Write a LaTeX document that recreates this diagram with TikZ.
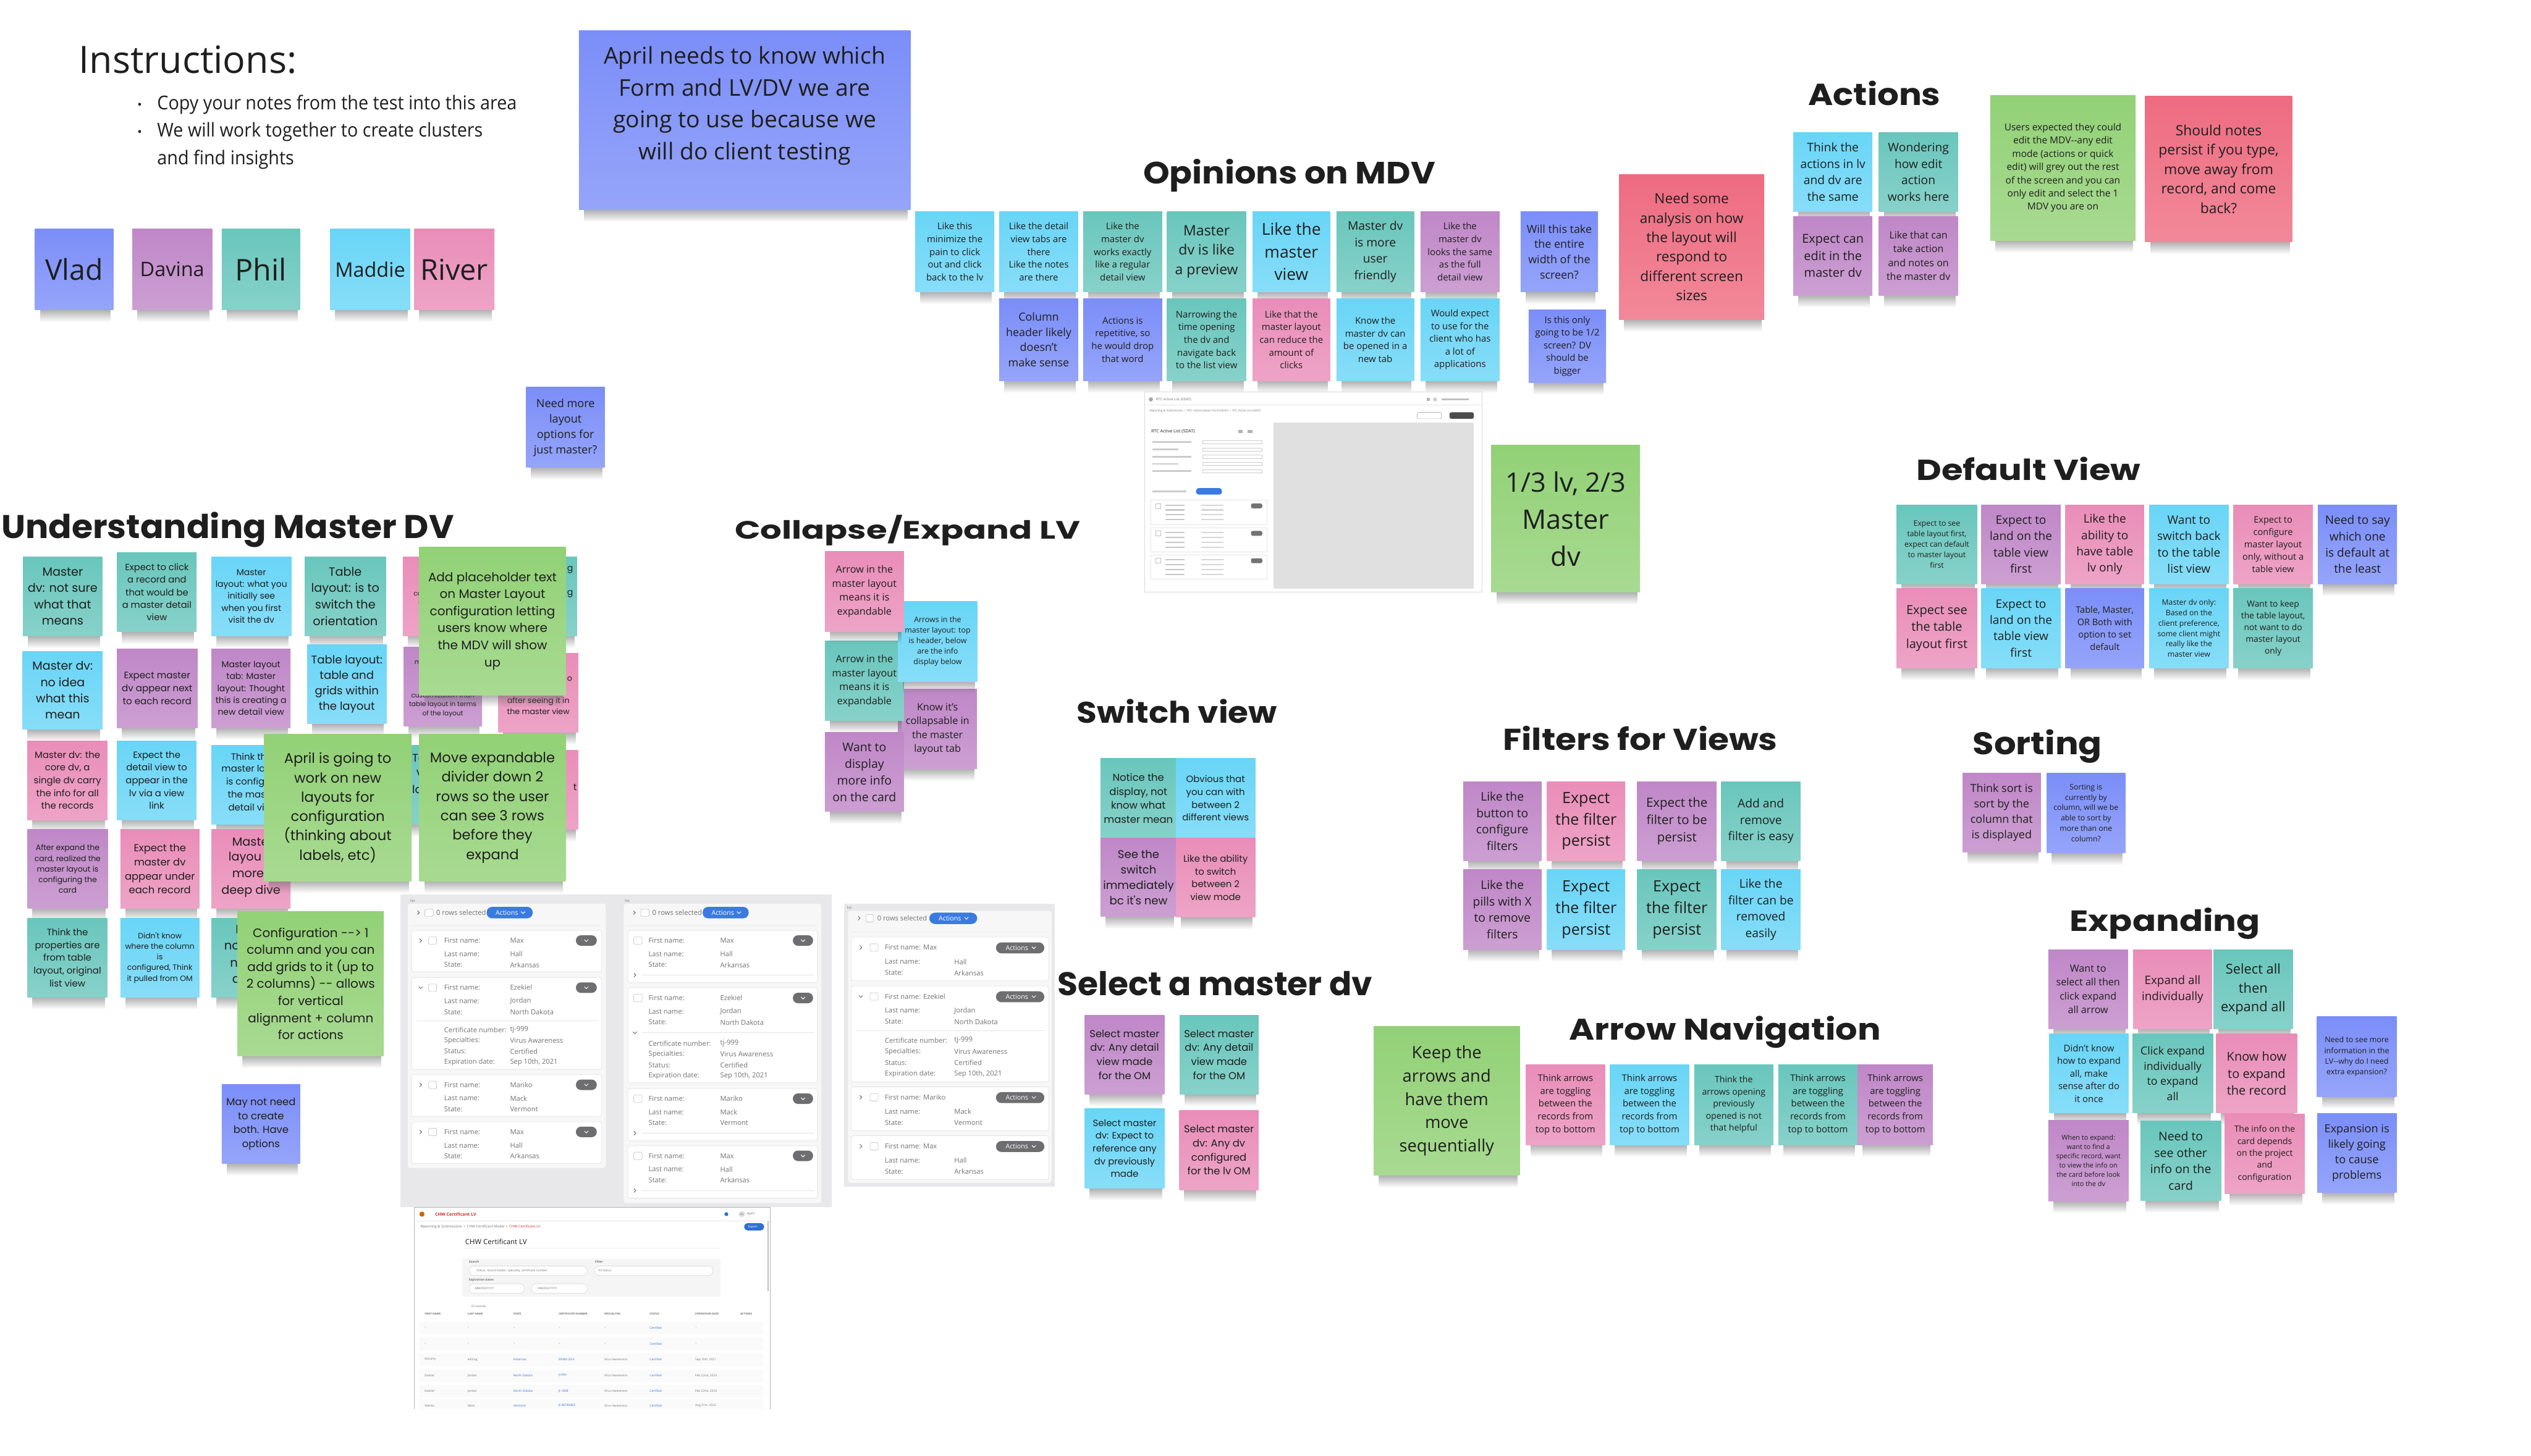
\documentclass[tikz,border=0pt]{standalone}
\usepackage{fontspec}
\usepackage{graphicx}
\setmainfont{Open Sans}
\newfontfamily\widefont{Poppins}
\newfontfamily\headfont{Poppins}
\newfontfamily\narrowfont{Open Sans}[FakeStretch=0.93]
\usetikzlibrary{fadings,positioning}

\definecolor{noteblue}{HTML}{7B8EF8}
\definecolor{notepurple}{HTML}{BF87C7}
\definecolor{noteteal}{HTML}{69C6BC}
\definecolor{notecyan}{HTML}{69D5F6}
\definecolor{notepink}{HTML}{E98DB8}
\definecolor{notegreen}{HTML}{92D176}
\definecolor{notered}{HTML}{EE6B80}
\definecolor{inkdark}{HTML}{1E1E1E}
\definecolor{actblue}{HTML}{3B7BE0}
\definecolor{shotgray}{HTML}{E8E8EA}
\definecolor{btngray}{HTML}{6E6E70}
\definecolor{chwred}{HTML}{D0312D}
\definecolor{linkblue}{HTML}{2F6FD0}

\tikzfading[name=notefade, top color=transparent!45, bottom color=transparent!100]

\newdimen\unitpx \unitpx=0.0336cm
\newcommand{\notefont}[1]{\fontsize{\fpeval{0.69*#1}}{\fpeval{0.954*#1}}\selectfont}
% sticky note: [style]{name}{colour}{x1}{y1}{x2}{y2}{line spacing}{text}
\newcommand{\sticky}[9][]{%
  \fill[black!60, path fading=notefade] ({#4+3},{#7-0.5}) rectangle ({#6-1.5},{#7+7.5});
  \shade[top color=#3, bottom color=#3!80!white] (#4,#5) rectangle (#6,#7);
  \node[notetext, font=\notefont{#8}, #1] (#2) at ({(#4+#6)/2},{(#5+#7)/2}) {#9};}
% heading: {name}{x}{baseline}{width}{height}{text}
\newcommand{\heading}[6]{%
  \node[anchor=base west, inner sep=0, text=inkdark] (#1) at (#2,#3)
    {\resizebox{#4\unitpx}{#5\unitpx}{\headfont\bfseries #6}};}

\begin{document}
\begin{tikzpicture}[x=0.0336cm, y=-0.0336cm,
  notetext/.style={align=center, text=inkdark, inner sep=0},
  wide/.style={execute at begin node=\widefont},
  frag/.style={inner sep=0, text=inkdark, execute at begin node=\widefont},
  bullettext/.style={anchor=base west, inner sep=0, font=\narrowfont\fontsize{11.3}{13}\selectfont, text=inkdark},
  shottext/.style={font=\fontsize{4.1}{5}\selectfont, text=black!55, inner sep=0, anchor=west},
  pilltext/.style={font=\fontsize{3.9}{5}\selectfont, text=white, inner sep=0},
  tinytext/.style={font=\fontsize{2.1}{2.6}\selectfont, text=black!55, inner sep=0, anchor=west},
  shotcard/.style={fill=white, draw=black!10, line width=0.3pt, rounded corners=1.2pt},
  chkbox/.style={draw=black!20, fill=white, line width=0.3pt, rounded corners=0.6pt},
  chev/.style={draw=black!60, line width=0.35pt},
  rowbox/.style={fill=white, draw=black!6, line width=0.2pt}]

\fill[white] (0,0) rectangle (1568,902);
\useasboundingbox (0,0) rectangle (1568,902);

% ---------- instructions ----------
\node[anchor=base west, inner sep=0, font=\fontsize{22.3}{26}\selectfont, text=inkdark] (instr) at (48.7,45.2) {Instructions:};
\node[bullettext] (bul1) at (97.2,67.9) {Copy your notes from the test into this area};
\node[bullettext] (bul2) at (97.2,84.8) {We will work together to create clusters};
\node[bullettext] (bul3) at (97.2,101.9) {and find insights};
\fill[inkdark] (86.5,64.6) circle (0.9);
\fill[inkdark] (86.5,81.5) circle (0.9);

\sticky[yshift=8.5pt]{april}{noteblue}{358.6}{19}{564}{130}{19.8}{April needs to know which\\Form and LV/DV we are\\going to use because we\\will do client testing}

\sticky{vlad}{noteblue}{21.7}{142}{70.2}{192}{24.6}{Vlad}
\sticky{davina}{notepurple}{82}{142}{131.4}{192}{17.2}{Davina}
\sticky{phil}{noteteal}{137.4}{142}{186}{192}{25.7}{Phil}
\sticky{maddie}{notecyan}{204.6}{142}{254}{192}{17.2}{Maddie}
\sticky{river}{notepink}{256.6}{142}{306.3}{192}{24.8}{River}

\sticky{needmore}{noteblue}{326}{240}{374.7}{289.7}{9.6}{Need more\\layout\\options for\\just master?}

% ---------- opinions on MDV ----------
\heading{hOpinions}{708}{114}{181}{15.3}{Opinions on MDV}
\sticky{op1}{notecyan}{567}{131}{616}{181}{7.9}{Like this\\minimize the\\pain to click\\out and click\\back to the lv}
\sticky{op2}{notecyan}{619}{131}{668}{181}{7.9}{Like the detail\\view tabs are\\there\\Like the notes\\are there}
\sticky{op3}{noteteal}{671}{131}{720}{181}{7.9}{Like the\\master dv\\works exactly\\like a regular\\detail view}
\sticky{op4}{noteteal}{723}{131}{772}{181}{12.2}{Master\\dv is like\\a preview}
\sticky{op5}{notecyan}{776}{131}{824}{181}{14}{Like the\\master\\view}
\sticky{op6}{noteteal}{828}{131}{876}{181}{10.2}{Master dv\\is more\\user\\friendly}
\sticky{op7}{notepurple}{880}{131}{929}{181}{7.9}{Like the\\master dv\\looks the same\\as the full\\detail view}
\sticky{op8}{noteblue}{942}{131}{990}{181}{9.5}{Will this take\\the entire\\width of the\\screen?}
\sticky{op9}{noteblue}{619}{185}{668}{236}{9.5}{Column\\header likely\\doesn't\\make sense}
\sticky{op10}{noteblue}{671}{185}{720}{236}{7.9}{Actions is\\repetitive, so\\he would drop\\that word}
\sticky{op11}{noteteal}{723}{185}{772}{236}{7.9}{Narrowing the\\time opening\\the dv and\\navigate back\\to the list view}
\sticky{op12}{notepink}{776}{185}{824}{236}{7.9}{Like that the\\master layout\\can reduce the\\amount of\\clicks}
\sticky{op13}{notecyan}{828}{185}{876}{236}{7.9}{Know the\\master dv can\\be opened in a\\new tab}
\sticky{op14}{notecyan}{880}{185}{929}{236}{7.9}{Would expect\\to use for the\\client who has\\a lot of\\applications}
\sticky{op15}{noteblue}{947}{192}{995}{237}{7.9}{Is this only\\going to be 1/2\\screen? DV\\should be\\bigger}

\sticky{needsome}{notered}{1003}{108}{1093}{198}{12}{Need some\\analysis on how\\the layout will\\respond to\\different screen\\sizes}

% ---------- actions ----------
\heading{hActions}{1120}{65.4}{82}{15.1}{Actions}
\sticky{ac1}{notecyan}{1111}{82}{1160}{131}{10.2}{Think the\\actions in lv\\and dv are\\the same}
\sticky{ac2}{noteteal}{1164}{82}{1213}{131}{10.2}{Wondering\\how edit\\action\\works here}
\sticky{ac3}{notepurple}{1111}{134}{1160}{183}{10.6}{Expect can\\edit in the\\master dv}
\sticky{ac4}{notepurple}{1164}{134}{1213}{183}{8.5}{Like that can\\take action\\and notes on\\the master dv}
\sticky{ac5}{notegreen}{1233}{59}{1323}{149}{8.2}{Users expected they could\\edit the MDV-{}-any edit\\mode (actions or quick\\edit) will grey out the rest\\of the screen and you can\\only edit and select the 1\\MDV you are on}
\sticky{ac6}{notered}{1329}{59.5}{1420}{150}{12.1}{Should notes\\persist if you type,\\move away from\\record, and come\\back?}

% ---------- screenshot: RTC active list ----------
\draw[black!15, fill=white, line width=0.3pt] (709,243) rectangle (918,367);
\fill[black!35] (713,247.5) circle (1.3);
\node[tinytext] (rtcTop) at (716,247.5) {RTC Active List (SDAT)};
\fill[black!30] (884,246.5) rectangle (886,248.5);
\fill[black!20] (889,247.5) circle (1.2);
\fill[black!25] (893,247) rectangle (910,248);
\draw[black!10, line width=0.3pt] (709,251) -- (918,251);
\node[tinytext, font=\fontsize{1.7}{2}\selectfont] (rtcCrumb) at (712,254.5) {Reporting \& Submissions \,>\, RTC Authorization Form (SDAT) \,>\, RTC Active List (SDAT)};
\draw[black!30, fill=white, line width=0.25pt, rounded corners=1pt] (878,255.5) rectangle (893,259.5);
\fill[black!70, rounded corners=1pt] (898,255.5) rectangle (913,259.5);
\node[tinytext, font=\fontsize{2.6}{3}\selectfont, text=inkdark] (rtcTitle) at (713,267.5) {RTC Active List (SDAT)};
\fill[black!30] (767,266.5) rectangle (770,268.5);
\fill[black!30] (773,266.5) rectangle (776,268.5);
\fill[black!12] (789,262) rectangle (913,365);
\foreach \yy [count=\k] in {274,278.5,283,287.5,292} {
  \fill[black!20] (714,{\yy-0.5}) rectangle ({730+mod(\k,2)*8},{\yy+0.5});
  \draw[black!20, line width=0.25pt] (745,{\yy-1}) rectangle (782,{\yy+1});
}
\fill[actblue, rounded corners=1.5pt] (741,302.5) rectangle (757,306.5);
\fill[black!20] (714,304) rectangle (735,305);
\foreach \yy [count=\k] in {310,327,344} {
  \draw[black!10, fill=white, line width=0.3pt] (713,\yy) rectangle (785,{\yy+15});
  \foreach \dy in {3,6,9,12} {
    \fill[black!22] (722,{\yy+\dy-0.4}) rectangle (734,{\yy+\dy+0.4});
    \fill[black!16] (744,{\yy+\dy-0.4}) rectangle (758,{\yy+\dy+0.4});
  }
  \fill[black!55, rounded corners=1pt] (775,{\yy+2}) rectangle (782,{\yy+5});
  \draw[black!25, line width=0.25pt] (716,{\yy+2}) rectangle (719,{\yy+5});
}

\sticky{third}{notegreen}{924}{276}{1016}{367}{23}{1/3 lv, 2/3\\Master\\dv}

% ---------- default view ----------
\heading{hDefault}{1187}{297.8}{139}{14.4}{Default View}
\sticky{d1}{noteteal}{1175}{312.8}{1224.8}{361.9}{6.5}{Expect to see\\table layout first,\\expect can default\\to master layout\\first}
\sticky{d2}{notepurple}{1227.4}{312.8}{1276.6}{361.9}{10.1}{Expect to\\land on the\\table view\\first}
\sticky{d3}{notepink}{1279.6}{312.8}{1328.3}{361.9}{10.1}{Like the\\ability to\\have table\\lv only}
\sticky{d4}{notecyan}{1331.5}{312.8}{1380.6}{361.9}{10.1}{Want to\\switch back\\to the table\\list view}
\sticky{d5}{notepink}{1383.6}{312.8}{1432.8}{361.9}{7.7}{Expect to\\configure\\master layout\\only, without a\\table view}
\sticky{d6}{noteblue}{1436}{312.8}{1485}{361.9}{10.1}{Need to say\\which one\\is default at\\the least}
\sticky{d7}{notepink}{1175}{364.6}{1224.8}{414}{10.6}{Expect see\\the table\\layout first}
\sticky{d8}{notecyan}{1227.4}{364.6}{1276.6}{414}{10.1}{Expect to\\land on the\\table view\\first}
\sticky{d9}{noteblue}{1279.6}{364.6}{1328.3}{414}{7.7}{Table, Master,\\OR Both with\\option to set\\default}
\sticky{d10}{notecyan}{1331.5}{364.6}{1380.6}{414}{6.5}{Master dv only:\\Based on the\\client preference,\\some client might\\really like the\\master view}
\sticky{d11}{noteteal}{1383.6}{364.6}{1432.8}{414}{7.3}{Want to keep\\the table layout,\\not want to do\\master layout\\only}

% ---------- understanding master DV ----------
\heading{hUnderstanding}{0.6}{333.6}{280.4}{16.3}{Understanding Master DV}
\sticky[wide]{u1}{noteteal}{14.2}{345}{63.4}{394.2}{10.2}{Master\\dv: not sure\\what that\\means}
\sticky[wide]{u6}{noteteal}{72.6}{342.4}{121.8}{391.6}{7.8}{Expect to click\\a record and\\that would be\\a master detail\\view}
\sticky[wide]{u11}{notecyan}{131}{345}{180.4}{394}{7.4}{Master\\layout: what you\\initially see\\when you first\\visit the dv}
\sticky[wide]{u17}{noteteal}{188.8}{345}{239}{394}{10.2}{Table\\layout: is to\\switch the\\orientation}
% notes that sit mostly under the green ones: only their visible bits are set
\sticky{u19}{notepink}{249.5}{345}{299}{394}{5.5}{}
\node[frag, anchor=west, font=\notefont{5.5}] (u19a) at (256,368) {co};
\node[frag, anchor=west, font=\notefont{5.5}] (u19b) at (259,373.5) {n};
\sticky{u20}{noteteal}{308.5}{345}{357.5}{394}{7.5}{}
\node[frag, anchor=west, font=\notefont{7.5}] (u20a) at (351.2,353) {g};
\node[frag, anchor=west, font=\notefont{7.5}] (u20b) at (351.2,368) {g};
\sticky[wide]{u2}{notecyan}{14}{403.5}{63.6}{452}{10.1}{Master dv:\\no idea\\what this\\mean}
\sticky[wide]{u7}{notepurple}{72.4}{402}{122.3}{451}{8}{Expect master\\dv appear next\\to each record}
\sticky[wide]{u12}{notepurple}{131}{402}{180}{451}{7.4}{Master layout\\tab: Master\\layout: Thought\\this is creating a\\new detail view}
\sticky[wide]{u18}{notecyan}{190.3}{399.5}{239.4}{448.6}{9.6}{Table layout:\\table and\\grids within\\the layout}
\sticky{u21}{notepurple}{250}{401}{298.6}{450}{5.6}{}
\node[frag, anchor=west, font=\notefont{5.6}] (u21a) at (256.6,410.6) {m};
\node[frag, font=\notefont{5.6}, align=center] (u21b) at (274.3,436.9) {customization than\\table layout in terms\\of the layout};
\sticky{u22}{notepink}{308.7}{405}{358.3}{454}{6.7}{}
\node[frag, anchor=west, font=\notefont{6.7}] (u22a) at (351.2,420.8) {o};
\node[frag, font=\notefont{6.7}, align=center] (u22b) at (333.5,437.4) {after seeing it in\\the master view};
\sticky[wide]{u3}{notepink}{17}{459}{66.6}{508}{7.9}{Master dv: the\\core dv, a\\single dv carry\\the info for all\\the records}
\sticky[wide]{u8}{notecyan}{72.6}{459}{121.6}{508}{7.9}{Expect the\\detail view to\\appear in the\\lv via a view\\link}
\sticky{u13}{notecyan}{131}{462}{180}{511}{7.9}{}
\node[frag, anchor=west, font=\notefont{7.9}] (u13a) at (142.9,468.8) {Think th};
\node[frag, anchor=west, font=\notefont{7.9}] (u13b) at (137,476.8) {master lay};
\node[frag, anchor=west, font=\notefont{7.9}] (u13c) at (139.9,484.8) {is configu};
\node[frag, anchor=west, font=\notefont{7.9}] (u13d) at (140.9,492.5) {the mast};
\node[frag, anchor=west, font=\notefont{7.9}] (u13e) at (141.3,500.4) {detail vie};
\sticky{u23}{noteteal}{246}{462}{295}{511}{9.6}{}
\node[frag, anchor=west, font=\notefont{9.6}] (u23a) at (255.2,469.9) {Ta};
\node[frag, anchor=west, font=\notefont{9.6}] (u23b) at (257.8,479.2) {v};
\node[frag, anchor=west, font=\notefont{9.6}] (u23c) at (255.2,489.3) {la};
\sticky{u24}{notepink}{309}{465}{358.3}{514}{8}{}
\node[frag, anchor=west, font=\notefont{8}] (u24a) at (355,487.7) {t};
\sticky[wide]{u4}{notepurple}{17}{514}{66.8}{563}{6.6}{After expand the\\card, realized the\\master layout is\\configuring the\\card}
\sticky[wide]{u9}{notepink}{74.6}{514}{123.5}{563}{8.7}{Expect the\\master dv\\appear under\\each record}
\sticky{u14}{notepink}{131}{514}{180}{563}{10.2}{}
\node[frag, anchor=west, font=\notefont{10.2}] (u14a) at (143.7,521.6) {Maste};
\node[frag, anchor=west, font=\notefont{10.2}] (u14b) at (141.4,531.7) {layou};
\node[frag, anchor=west, font=\notefont{10.2}] (u14c) at (143.7,541.8) {more};
\node[frag, font=\notefont{10.2}] (u14d) at (155.5,552.2) {deep dive};
\sticky[wide]{u5}{noteteal}{17}{569}{66.5}{618}{7.9}{Think the\\properties are\\from table\\layout, original\\list view}
\sticky[wide]{u10}{notecyan}{74.6}{569}{123.5}{618}{6.6}{Didn't know\\where the column\\is\\configured, Think\\it pulled from OM}
\sticky{u15}{noteteal}{131}{569}{180}{618}{10.4}{}
\node[frag, anchor=west, font=\notefont{10.4}] (u15a) at (145.8,576.1) {D};
\node[frag, anchor=west, font=\notefont{10.4}] (u15b) at (138.7,586.7) {no};
\node[frag, anchor=west, font=\notefont{10.4}] (u15c) at (142.3,597.3) {ne};
\node[frag, anchor=west, font=\notefont{10.4}] (u15d) at (143.7,607.2) {a};
\sticky[wide]{g1}{notegreen}{259.8}{339}{350.4}{430.7}{10.6}{Add placeholder text\\on Master Layout\\configuration letting\\users know where\\the MDV will show\\up}
\sticky[wide]{g2}{notegreen}{163.5}{455}{255}{546}{12}{April is going to\\work on new\\layouts for\\configuration\\(thinking about\\labels, etc)}
\sticky[wide]{g3}{notegreen}{259.8}{455}{350.4}{546}{12}{Move expandable\\divider down 2\\rows so the user\\can see 3 rows\\before they\\expand}
\sticky[wide]{g4}{notegreen}{147.2}{564.7}{237.8}{654.5}{10.6}{Configuration -{}-> 1\\column and you can\\add grids to it (up to\\2 columns) -{}- allows\\for vertical\\alignment + column\\for actions}
\sticky[wide]{u16}{noteblue}{137.4}{672}{186}{721}{8.7}{May not need\\to create\\both. Have\\options}

% ---------- collapse / expand LV ----------
\heading{hCollapse}{455}{334}{214}{14.8}{Collapse/Expand LV}
\sticky{c4}{notepurple}{556.3}{427}{605.3}{476.4}{8.6}{Know it's\\collapsable in\\the master\\layout tab}
\sticky{c3}{noteteal}{511}{397.2}{560}{446.7}{8.6}{Arrow in the\\master layout\\means it is\\expandable}
\sticky{c2}{notecyan}{556.4}{372.8}{605.4}{422.3}{6.55}{Arrows in the\\master layout: top\\is header, below\\are the info\\display below}
\sticky{c1}{notepink}{511}{341.7}{560}{391.3}{8.6}{Arrow in the\\master layout\\means it is\\expandable}
\sticky{c5}{notepurple}{511}{454}{560}{503}{10.3}{Want to\\display\\more info\\on the card}

% ---------- switch view ----------
\heading{hSwitch}{667}{448}{124}{14.8}{Switch view}
\sticky[wide]{s1}{noteteal}{681.7}{470}{728.8}{519.4}{8.7}{Notice the\\display, not\\know what\\master mean}
\sticky[wide]{s2}{notecyan}{728.5}{470}{777.6}{519.4}{7.9}{Obvious that\\you can with\\between 2\\different views}
\sticky[wide]{s3}{notepurple}{681.7}{519.4}{729}{568}{9.6}{See the\\switch\\immediately\\bc it's new}
\sticky[wide]{s4}{notepink}{728.5}{519.4}{777.6}{568.4}{7.9}{Like the ability\\to switch\\between 2\\view mode}

% ---------- select a master dv ----------
\heading{hSelect}{655}{616.8}{195}{15}{Select a master dv}
\sticky[wide]{m1}{notepurple}{672}{629}{721.4}{678}{8.7}{Select master\\dv: Any detail\\view made\\for the OM}
\sticky[wide]{m2}{noteteal}{730.8}{629}{779.7}{678}{8.7}{Select master\\dv: Any detail\\view made\\for the OM}
\sticky[wide]{m3}{notecyan}{672}{687}{721.4}{736.4}{7.9}{Select master\\dv: Expect to\\reference any\\dv previously\\made}
\sticky[wide]{m4}{notepink}{730.6}{688}{779.7}{737.5}{8.7}{Select master\\dv: Any dv\\configured\\for the lv OM}

% ---------- filters for views ----------
\heading{hFilters}{931}{465}{170}{15}{Filters for Views}
\sticky{f1}{notepurple}{906.4}{484.3}{955}{533.5}{10.2}{Like the\\button to\\configure\\filters}
\sticky{f2}{notepink}{958.4}{484.3}{1006.8}{533.5}{13.3}{Expect\\the filter\\persist}
\sticky{f3}{notepurple}{1014.3}{484.3}{1063.4}{533.5}{10.8}{Expect the\\filter to be\\persist}
\sticky{f4}{noteteal}{1066.4}{484.3}{1115.4}{533.5}{10.2}{Add and\\remove\\filter is easy}
\sticky{f5}{notepurple}{906.4}{538.9}{955}{588.4}{10.2}{Like the\\pills with X\\to remove\\filters}
\sticky{f6}{notecyan}{958.4}{538.9}{1006.8}{588.4}{13.3}{Expect\\the filter\\persist}
\sticky{f7}{noteteal}{1014.3}{538.9}{1063.4}{588.4}{13.3}{Expect\\the filter\\persist}
\sticky{f8}{notecyan}{1066.4}{538.9}{1115.4}{588.4}{10.2}{Like the\\filter can be\\removed\\easily}

% ---------- sorting ----------
\heading{hSorting}{1222}{467.5}{80}{15.5}{Sorting}
\sticky{so1}{notepurple}{1215.8}{479}{1264.3}{528}{9.5}{Think sort is\\sort by the\\column that\\is displayed}
\sticky{so2}{noteblue}{1268}{479}{1316.6}{528.6}{6.5}{Sorting is\\currently by\\column, will we be\\able to sort by\\more than one\\column?}

% ---------- expanding ----------
\heading{hExpanding}{1282}{576.9}{118}{14.5}{Expanding}
\sticky{e1}{notepurple}{1269}{588.5}{1318.2}{637.6}{8.55}{Want to\\select all then\\click expand\\all arrow}
\sticky{e2}{notepink}{1321.4}{588.5}{1370.4}{637.6}{10}{Expand all\\individually}
\sticky{e3}{noteteal}{1371.3}{588.5}{1420.4}{637.6}{11.6}{Select all\\then\\expand all}
\sticky{e7}{noteblue}{1435.4}{630}{1484.7}{679.5}{6.6}{Need to see more\\information in the\\LV-{}-why do I need\\extra expansion?}
\sticky{e4}{notecyan}{1269.6}{640.7}{1318.6}{689.8}{7.9}{Didn't know\\how to expand\\all, make\\sense after do\\it once}
\sticky{e5}{noteteal}{1321}{640.7}{1371}{689.8}{9.4}{Click expand\\individually\\to expand\\all}
\sticky{e6}{notepink}{1373}{640.7}{1423}{689.8}{10.6}{Know how\\to expand\\the record}
\sticky{e10}{notepink}{1378.3}{690.5}{1427.7}{739.6}{7.4}{The info on the\\card depends\\on the project\\and\\configuration}
\sticky{e11}{noteblue}{1435.5}{690}{1484.7}{739}{9.6}{Expansion is\\likely going\\to cause\\problems}
\sticky{e8}{notepurple}{1269}{694.3}{1318.6}{744.3}{5.8}{When to expand:\\want to find a\\specific record, want\\to view the info on\\the card before look\\into the dv}
\sticky{e9}{noteteal}{1326}{694.8}{1376}{744}{10.3}{Need to\\see other\\info on the\\card}

% ---------- arrow navigation ----------
\heading{hArrow}{972}{644.3}{193}{14.8}{Arrow Navigation}
\sticky{keep}{notegreen}{851}{636}{941.5}{728.4}{14.5}{Keep the\\arrows and\\have them\\move\\sequentially}
\sticky{an1}{notepink}{945.3}{659.6}{994.3}{709.4}{7.9}{Think arrows\\are toggling\\between the\\records from\\top to bottom}
\sticky{an2}{notecyan}{997.4}{659.6}{1046.4}{709.4}{7.9}{Think arrows\\are toggling\\between the\\records from\\top to bottom}
\sticky{an3}{noteteal}{1049.6}{659.6}{1098.6}{709.4}{7.5}{Think the\\arrows opening\\previously\\opened is not\\that helpful}
\sticky{an4}{noteteal}{1101.7}{659.6}{1150.8}{709.4}{7.9}{Think arrows\\are toggling\\between the\\records from\\top to bottom}
\sticky{an5}{notepurple}{1150.8}{659.6}{1197.5}{709.4}{7.9}{Think arrows\\are toggling\\between the\\records from\\top to bottom}

% ---------- screenshots: list views ----------
\fill[shotgray] (248,554.3) rectangle (515.2,748);
\node[tinytext] (listL) at (254,558.3) {list};
\node[tinytext] (listM) at (387,558.3) {list};
\fill[black!3, rounded corners=1.5pt] (252.6,560) rectangle (375.3,723.8);
\fill[black!3, rounded corners=1.5pt] (386.4,560) rectangle (508.8,745.5);
% headers
\foreach \dx [count=\k] in {0,133.8} {
  \draw[chev] ({258.6+\dx},564.4) -- ({259.8+\dx},565.6) -- ({258.6+\dx},566.8);
  \draw[chkbox] ({263.2+\dx},563.4) rectangle ({268.4+\dx},567.8);
  \node[shottext] (rows\k) at ({270.1+\dx},565.6) {0 rows selected};
  \fill[actblue, rounded corners=3.2pt] ({301.5+\dx},562) rectangle ({330+\dx},569.1);
  \node[pilltext] (act\k) at ({314+\dx},565.6) {Actions};
  \draw[white, line width=0.35pt] ({322.8+\dx},564.9) -- ({324+\dx},566.1) -- ({325.2+\dx},564.9);
  \draw[black!8, line width=0.3pt] ({255+\dx},573.5) -- ({372.6+\dx},573.5);
}
% left panel cards
\foreach \ya/\yb/\fn/\ln/\st [count=\k] in {576.6/602.3/Max/Hall/Arkansas, 666/692/Mariko/Mack/Vermont, 695.2/721/Max/Hall/Arkansas} {
  \draw[shotcard] (255,\ya) rectangle (372.6,\yb);
  \draw[chev] (260,{\ya+5.1}) -- (261.2,{\ya+6.3}) -- (260,{\ya+7.5});
  \draw[chkbox] (265.5,{\ya+4}) rectangle (270.5,{\ya+8.6});
  \fill[btngray, rounded corners=3pt] (356.8,{\ya+3}) rectangle (369.7,{\ya+9.5});
  \draw[white, line width=0.35pt] (362,{\ya+5.7}) -- (363.2,{\ya+6.9}) -- (364.4,{\ya+5.7});
  \node[shottext] (lA\k) at (275,{\ya+6.3}) {First name:};
  \node[shottext] (lB\k) at (315.8,{\ya+6.3}) {\fn};
  \node[shottext] (lC\k) at (275,{\ya+14.6}) {Last name:};
  \node[shottext] (lD\k) at (315.8,{\ya+14.6}) {\ln};
  \node[shottext] (lE\k) at (275,{\ya+21.3}) {State:};
  \node[shottext] (lF\k) at (315.8,{\ya+21.3}) {\st};
}
\draw[shotcard] (255,605.8) rectangle (372.6,662.7);
\draw[chev] (259.4,611.4) -- (260.6,612.6) -- (261.8,611.4);
\draw[chkbox] (265.5,609.8) rectangle (270.5,614.4);
\fill[btngray, rounded corners=3pt] (356.8,608.8) rectangle (369.7,615.3);
\draw[white, line width=0.35pt] (362,611.5) -- (363.2,612.7) -- (364.4,611.5);
\draw[black!10, line width=0.3pt] (258,632.5) -- (370,632.5);
\foreach \yy/\lab/\val [count=\k] in {612/First name:/Ezekiel, 620.4/Last name:/Jordan, 627.1/State:/North Dakota, 638.1/Certificate number:/tj-999, 644.8/Specialties:/Virus Awareness, 651.5/Status:/Certified, 658.2/Expiration date:/{Sep 10th, 2021}} {
  \node[shottext] (lx\k) at (275,\yy) {\lab};
  \node[shottext] (lv\k) at (315.8,\yy) {\val};
}
% middle panel cards
\foreach \ya/\yb/\fn/\ln/\st [count=\k] in {576.6/609/Max/Hall/Arkansas, 674.6/707/Mariko/Mack/Vermont, 710/742.5/Max/Hall/Arkansas} {
  \draw[shotcard] (389,\ya) rectangle (506.4,\yb);
  \draw[chkbox] (392.6,{\ya+4}) rectangle (397.8,{\ya+8.6});
  \fill[btngray, rounded corners=3pt] (491.2,{\ya+3}) rectangle (503.7,{\ya+9.5});
  \draw[white, line width=0.35pt] (496.3,{\ya+5.7}) -- (497.5,{\ya+6.9}) -- (498.7,{\ya+5.7});
  \node[shottext] (mA\k) at (401.6,{\ya+6.3}) {First name:};
  \node[shottext] (mB\k) at (446,{\ya+6.3}) {\fn};
  \node[shottext] (mC\k) at (401.6,{\ya+14.6}) {Last name:};
  \node[shottext] (mD\k) at (446,{\ya+14.6}) {\ln};
  \node[shottext] (mE\k) at (401.6,{\ya+21.3}) {State:};
  \node[shottext] (mF\k) at (446,{\ya+21.3}) {\st};
  \draw[black!10, line width=0.3pt] (397.9,{\yb-4.7}) -- (504,{\yb-4.7});
  \draw[chev] (392.7,{\yb-5.9}) -- (393.9,{\yb-4.7}) -- (392.7,{\yb-3.5});
}
\draw[shotcard] (389,612) rectangle (506.4,671);
\draw[chkbox] (392.6,616.2) rectangle (397.8,620.8);
\fill[btngray, rounded corners=3pt] (491.2,615.2) rectangle (503.7,621.7);
\draw[white, line width=0.35pt] (496.3,617.9) -- (497.5,619.1) -- (498.7,617.9);
\draw[black!10, line width=0.3pt] (397.9,640) -- (504,640);
\draw[chev] (392.1,639.4) -- (393.3,640.6) -- (394.5,639.4);
\foreach \yy/\lab/\val [count=\k] in {618.5/First name:/Ezekiel, 626.9/Last name:/Jordan, 633.5/State:/North Dakota, 646.5/Certificate number:/tj-999, 653.3/Specialties:/Virus Awareness, 660/Status:/Certified, 666.7/Expiration date:/{Sep 10th, 2021}} {
  \node[shottext] (mx\k) at (401.6,\yy) {\lab};
  \node[shottext] (mv\k) at (446,\yy) {\val};
}
% right panel
\fill[shotgray] (523,560) rectangle (653.6,735.4);
\node[tinytext] (listR) at (524.5,562.5) {list};
\fill[black!3, rounded corners=1.5pt] (525.4,564.5) rectangle (651.5,733);
\draw[chev] (531.6,567.8) -- (532.8,569) -- (531.6,570.2);
\draw[chkbox] (536.4,566.8) rectangle (541.2,571.4);
\node[shottext] (rowsR) at (543.3,569) {0 rows selected};
\fill[actblue, rounded corners=3.4pt] (575.7,565.6) rectangle (605.4,572.6);
\node[pilltext] (actR) at (588.5,569.1) {Actions};
\draw[white, line width=0.35pt] (597.5,568.4) -- (598.7,569.6) -- (599.9,568.4);
\draw[black!8, line width=0.3pt] (527.4,577.5) -- (649.6,577.5);
\foreach \ya/\yb/\fn/\ln/\st [count=\k] in {580.7/607.8/Max/Hall/Arkansas, 673.5/700.7/Mariko/Mack/Vermont, 703.8/731/Max/Hall/Arkansas} {
  \draw[shotcard] (527.4,\ya) rectangle (649.6,\yb);
  \draw[chev] (532.7,{\ya+5.3}) -- (533.9,{\ya+6.5}) -- (532.7,{\ya+7.7});
  \draw[chkbox] (539,{\ya+4.2}) rectangle (544,{\ya+8.8});
  \fill[btngray, rounded corners=3.3pt] (617,{\ya+3.3}) rectangle (647,{\ya+10.1});
  \node[pilltext] (rP\k) at (630,{\ya+6.7}) {Actions};
  \draw[white, line width=0.35pt] (639.3,{\ya+6}) -- (640.5,{\ya+7.2}) -- (641.7,{\ya+6});
  \node[shottext] (rA\k) at (548,{\ya+6.5}) {First name: \fn};
  \node[shottext] (rC\k) at (548,{\ya+15.3}) {Last name:};
  \node[shottext] (rD\k) at (591,{\ya+15.3}) {\ln};
  \node[shottext] (rE\k) at (548,{\ya+22.2}) {State:};
  \node[shottext] (rF\k) at (591,{\ya+22.2}) {\st};
}
\draw[shotcard] (527.4,611) rectangle (649.6,670.5);
\draw[chev] (532.1,616.9) -- (533.3,618.1) -- (534.5,616.9);
\draw[chkbox] (539,615.2) rectangle (544,619.8);
\fill[btngray, rounded corners=3.3pt] (617,614.3) rectangle (647,621.1);
\node[pilltext] (rPx) at (630,617.7) {Actions};
\draw[white, line width=0.35pt] (639.3,617) -- (640.5,618.2) -- (641.7,617);
\draw[black!10, line width=0.3pt] (530,638.7) -- (647,638.7);
\node[shottext] (rAx) at (548,617.5) {First name: Ezekiel};
\foreach \yy/\lab/\val [count=\k] in {626.3/Last name:/Jordan, 633.1/State:/North Dakota, 644.6/Certificate number:/tj-999, 651.7/Specialties:/Virus Awareness, 658.6/Status:/Certified, 665.5/Expiration date:/{Sep 10th, 2021}} {
  \node[shottext] (rx\k) at (548,\yy) {\lab};
  \node[shottext] (rv\k) at (591,\yy) {\val};
}

% ---------- screenshot: CHW certificant LV ----------
\fill[white] (256.6,748) rectangle (477,873);
\draw[black!30, line width=0.3pt] (256.6,873) -- (256.6,748) -- (477,748) -- (477,873);
\fill[orange!80!black] (261.4,752.4) circle (1.6);
\node[tinytext, text=chwred, font=\bfseries\fontsize{2.6}{3}\selectfont] (chwTop) at (269.3,752.4) {CHW Certificant LV};
\fill[linkblue] (450,752.4) circle (1.2);
\fill[black!12] (459.6,752.4) circle (2);
\node[tinytext, font=\fontsize{1.6}{2}\selectfont] (adTag) at (458.2,752.4) {AD};
\node[tinytext] (aprilTag) at (462.5,752.4) {April};
\draw[black!10, line width=0.3pt] (256.6,756.6) -- (477,756.6);
\node[tinytext] (crumb) at (260.3,760.3) {Reporting \& Submissions \,>\, CHW Certificant Model \,>\, \textcolor{chwred}{CHW Certificant LV}};
\fill[linkblue, rounded corners=2pt] (461,758) rectangle (473.4,762.5);
\node[tinytext, text=white, font=\fontsize{1.8}{2}\selectfont] (exportBtn) at (463.3,760.3) {Export};
\node[tinytext, text=inkdark, font=\fontsize{4.2}{5}\selectfont] (chwTitle) at (288,769.5) {CHW Certificant LV};
\draw[black!8, line width=0.3pt] (288,773.5) -- (446,773.5);
\fill[black!4, rounded corners=1pt] (286.3,780) rectangle (446.3,803.5);
\node[tinytext, font=\bfseries\fontsize{1.8}{2}\selectfont] (lblSearch) at (290.3,782) {Search};
\draw[black!15, fill=white, rounded corners=2.5pt, line width=0.25pt] (290.8,784.6) rectangle (363.8,790.4);
\node[tinytext, font=\fontsize{1.8}{2}\selectfont] (srchText) at (295,787.5) {Status, record holder, specialty, certificate number};
\node[tinytext, font=\bfseries\fontsize{1.8}{2}\selectfont] (lblFilter) at (368.4,782) {Filter};
\draw[black!15, fill=white, rounded corners=2.5pt, line width=0.25pt] (368.4,784.6) rectangle (441.7,790.4);
\node[tinytext, font=\fontsize{1.8}{2}\selectfont] (allStatus) at (370.5,787.5) {All Status};
\node[tinytext, font=\bfseries\fontsize{1.8}{2}\selectfont] (lblExp) at (290.3,793.3) {Expiration dates};
\draw[black!15, fill=white, rounded corners=2.5pt, line width=0.25pt] (290.8,795.6) rectangle (324.8,801.5);
\draw[black!15, fill=white, rounded corners=2.5pt, line width=0.25pt] (329.3,795.6) rectangle (363.8,801.5);
\node[tinytext, font=\fontsize{1.8}{2}\selectfont] (date1) at (294,798.5) {MM/DD/YYYY};
\node[tinytext, font=\fontsize{1.8}{2}\selectfont] (date2) at (333,798.5) {MM/DD/YYYY};
\node[tinytext, font=\fontsize{1.8}{2}\selectfont] (recCount) at (291.6,809.6) {23 records};
\foreach \xx/\hd [count=\k] in {262.9/FIRST NAME, 289.5/LAST NAME, 317.9/STATE, 345.8/CERTIFICATE NUMBER, 374.2/SPECIALTIES, 402.3/STATUS, 430.5/EXPIRATION DATE, 458.4/ACTIONS}
  \node[tinytext, font=\bfseries\fontsize{1.6}{2}\selectfont] (th\k) at (\xx,814.2) {\hd};
\foreach \yy/\fn/\ln/\st/\cn/\sp/\ex [count=\k] in {823/--/--/--/--/--/--, 832.8/--/--/--/--/--/--, 842.5/Mccarty/editing/Arkansas/00482-20-A/Virus Awareness/{Sep 10th, 2021}, 852.4/Ezekiel/Jordan/North Dakota/tj-999/Virus Awareness/{Feb 22nd, 2024}, 862.1/Ezekiel/Jordan/North Dakota/Jt-1838/Virus Awareness/{Feb 22nd, 2024}, 871/Mariko/Mack/Vermont/jf-38746483/Virus Awareness/{Aug 31st, 2023}} {
  \fill[black!2] (260,{\yy-3.9}) rectangle (472.8,{min(\yy+3.9,873)});
  \node[tinytext, font=\fontsize{1.8}{2}\selectfont] (tdA\k) at (262.9,\yy) {\fn};
  \node[tinytext, font=\fontsize{1.8}{2}\selectfont] (tdB\k) at (289.5,\yy) {\ln};
  \node[tinytext, text=linkblue, font=\fontsize{1.8}{2}\selectfont] (tdC\k) at (317.9,\yy) {\st};
  \node[tinytext, text=linkblue, font=\fontsize{1.8}{2}\selectfont] (tdD\k) at (345.8,\yy) {\cn};
  \node[tinytext, font=\fontsize{1.8}{2}\selectfont] (tdE\k) at (374.2,\yy) {\sp};
  \node[tinytext, text=linkblue, font=\fontsize{1.8}{2}\selectfont] (tdF\k) at (402.3,\yy) {Certified};
  \node[tinytext, font=\fontsize{1.8}{2}\selectfont] (tdG\k) at (430.5,\yy) {\ex};
}
\fill[black!25] (475.4,757) rectangle (476.2,800);
\end{tikzpicture}
\end{document}
